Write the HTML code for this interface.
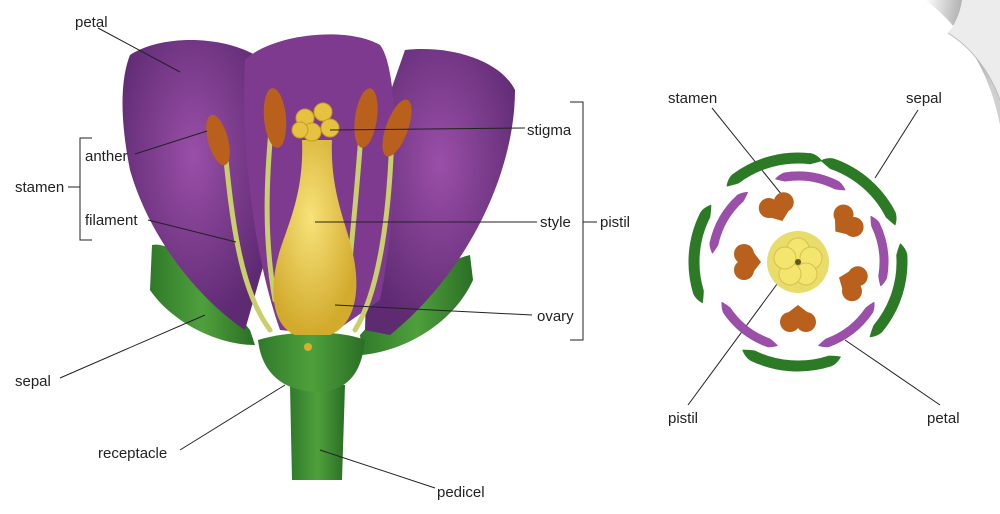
<!DOCTYPE html>
<html><head><meta charset="utf-8"><style>
html,body{margin:0;padding:0;background:#fff;width:1000px;height:514px;overflow:hidden}
svg{display:block}
text{font-family:"Liberation Sans",sans-serif;font-size:15px;fill:#222}
</style></head><body>
<svg width="1000" height="514" viewBox="0 0 1000 514">
<defs>
<radialGradient id="pg" cx="50%" cy="40%" r="60%"><stop offset="0" stop-color="#9a4fa8"/><stop offset="1" stop-color="#5e2a72"/></radialGradient>
<linearGradient id="gg" x1="0" x2="1"><stop offset="0" stop-color="#2f7a2a"/><stop offset=".5" stop-color="#4fa03c"/><stop offset="1" stop-color="#2a6e25"/></linearGradient>
<radialGradient id="yg" cx="45%" cy="40%" r="60%"><stop offset="0" stop-color="#f7e27a"/><stop offset="1" stop-color="#d2aa2c"/></radialGradient>
<linearGradient id="cg" x1="0" y1="0" x2="1" y2="0.3"><stop offset="0" stop-color="#fff"/><stop offset=".6" stop-color="#9a9a9a"/><stop offset="1" stop-color="#cfcfcf"/></linearGradient>
<path id="sep" d="M-48.8 -91.8 Q-46 -98 -40.8 -101.1 A109 109 0 0 1 40.8 -101.1 Q46 -98 48.8 -91.8 Q44 -91.5 37.1 -91.8 A99 99 0 0 0 -37.1 -91.8 Q-44 -91.5 -48.8 -91.8Z"/>
<path id="pet" d="M-35 -78.6 Q-32 -83 -27.8 -85.6 A90 90 0 0 1 27.8 -85.6 Q32 -83 35 -78.6 Q30 -78 25.3 -78 A82 82 0 0 0 -25.3 -78 Q-30 -78 -35 -78.6Z"/>
<g id="st"><circle cx="-8" cy="-2" r="10"/><circle cx="8" cy="-2" r="10"/><path d="M-17 2 L0 15 L17 2Z"/></g>
</defs>
<!-- corner -->
<path d="M925 0 C960 25 990 70 1000 125 L1000 0Z" fill="url(#cg)"/>
<path d="M962 0 C960 14 954 26 948 33 C972 48 990 72 1000 100 L1000 0Z" fill="#ececec"/>
<path d="M948 33 C972 48 990 72 1000 100" stroke="#bbb" fill="none"/>
<!-- sepals -->
<path d="M152 245 C175 240 210 280 250 330 L255 345 C215 345 170 320 150 290Z" fill="url(#gg)"/>
<path d="M470 255 C440 262 400 290 360 335 L362 355 C410 350 455 320 473 280Z" fill="url(#gg)"/>
<!-- petals -->
<path d="M130 55 C160 35 220 35 255 55 L265 260 L245 330 C200 300 150 240 130 170 C120 120 120 80 130 55Z" fill="url(#pg)"/>
<path d="M405 50 C450 45 500 60 515 90 C515 170 470 270 390 335 L365 330 L370 150Z" fill="url(#pg)"/>
<path d="M245 60 C270 35 345 25 380 45 C400 70 400 200 380 300 L330 335 L280 330 C255 260 240 150 245 60Z" fill="#7d3a8e"/>
<!-- receptacle & pedicel -->
<path d="M290 385 L345 385 L342 480 L292 480Z" fill="url(#gg)"/>
<path d="M258 340 C290 330 340 330 365 340 C362 370 350 390 320 392 C285 392 262 375 258 340Z" fill="url(#gg)"/>
<circle cx="308" cy="347" r="4" fill="#d8b030"/>
<g stroke="#c9cf6a" stroke-width="5" fill="none" stroke-linecap="round">
<path d="M225 150 C232 220 240 290 270 330"/>
<path d="M272 120 C266 180 264 240 275 300"/>
<path d="M362 120 C358 180 352 240 348 280"/>
<path d="M392 130 C390 210 380 290 355 330"/>
</g>
<g fill="#b8601c">
<ellipse cx="218" cy="140" rx="10" ry="26" transform="rotate(-15 218 140)"/>
<ellipse cx="275" cy="118" rx="11" ry="30" transform="rotate(-5 275 118)"/>
<ellipse cx="366" cy="118" rx="11" ry="30" transform="rotate(8 366 118)"/>
<ellipse cx="397" cy="128" rx="11" ry="30" transform="rotate(20 397 128)"/>
</g>
<path d="M302 140 L332 140 C330 190 345 220 352 250 C362 290 355 325 330 335 L295 335 C272 325 268 290 280 250 C290 220 304 190 302 140Z" fill="url(#yg)"/>
<g fill="#e6c240" stroke="#c69a20"><circle cx="305" cy="118" r="9"/><circle cx="323" cy="112" r="9"/><circle cx="330" cy="128" r="9"/><circle cx="312" cy="132" r="9"/><circle cx="300" cy="130" r="8"/></g>
<g stroke="#222" stroke-width="1" fill="none">
<line x1="98" y1="28" x2="180" y2="72"/>
<line x1="135" y1="154" x2="207" y2="131"/>
<line x1="148" y1="220" x2="236" y2="242"/>
<line x1="60" y1="378" x2="205" y2="315"/>
<line x1="180" y1="450" x2="285" y2="385"/>
<line x1="435" y1="488" x2="320" y2="450"/>
<line x1="525" y1="128" x2="330" y2="130"/>
<line x1="537" y1="222" x2="315" y2="222"/>
<line x1="532" y1="315" x2="335" y2="305"/>
<path d="M92 138 L80 138 L80 240 L92 240 M68 187 L80 187"/>
<path d="M570 102 L583 102 L583 340 L570 340 M583 222 L597 222"/>
<line x1="712" y1="108" x2="782" y2="195"/>
<line x1="918" y1="110" x2="875" y2="178"/>
<line x1="688" y1="405" x2="780" y2="280"/>
<line x1="940" y1="405" x2="845" y2="340"/>
</g>
<text x="75" y="27">petal</text>
<text x="85" y="161">anther</text>
<text x="15" y="192">stamen</text>
<text x="85" y="225">filament</text>
<text x="15" y="386">sepal</text>
<text x="98" y="458">receptacle</text>
<text x="437" y="497">pedicel</text>
<text x="527" y="135">stigma</text>
<text x="540" y="227">style</text>
<text x="600" y="227">pistil</text>
<text x="537" y="321">ovary</text>
<text x="668" y="103">stamen</text>
<text x="906" y="103">sepal</text>
<text x="668" y="423">pistil</text>
<text x="927" y="423">petal</text>
<g transform="translate(798,262)">
<g fill="#2c7a26" stroke="#2c7a26" stroke-width="1" stroke-linejoin="round">
<use href="#sep" transform="rotate(-15)"/>
<use href="#sep" transform="rotate(41)"/>
<use href="#sep" transform="rotate(108)"/>
<use href="#sep" transform="rotate(184)"/>
<use href="#sep" transform="rotate(-85)"/>
</g>
<g fill="#9a4fa8" stroke="#9a4fa8" stroke-width="1" stroke-linejoin="round">
<use href="#pet" transform="rotate(9)"/>
<use href="#pet" transform="rotate(-60)"/>
<use href="#pet" transform="rotate(82)"/>
<use href="#pet" transform="rotate(142)"/>
<use href="#pet" transform="rotate(218)"/>
</g>
<g fill="#b8601c">
<use href="#st" transform="translate(-21,-55) rotate(-21)"/>
<use href="#st" transform="translate(49,-40) rotate(51)"/>
<use href="#st" transform="translate(-52,0) rotate(-90)"/>
<use href="#st" transform="translate(55,21) rotate(111)"/>
<use href="#st" transform="translate(0,58) rotate(180)"/>
</g>
<circle r="31" fill="#e8dc6a"/>
<g fill="#f3e56e" stroke="#d6c24a"><circle cx="0" cy="-13" r="11"/><circle cx="13" cy="-4" r="11"/><circle cx="8" cy="12" r="11"/><circle cx="-8" cy="12" r="11"/><circle cx="-13" cy="-4" r="11"/></g>
<circle r="3" fill="#5a5a20"/>
</g>
</svg>
</body></html>
